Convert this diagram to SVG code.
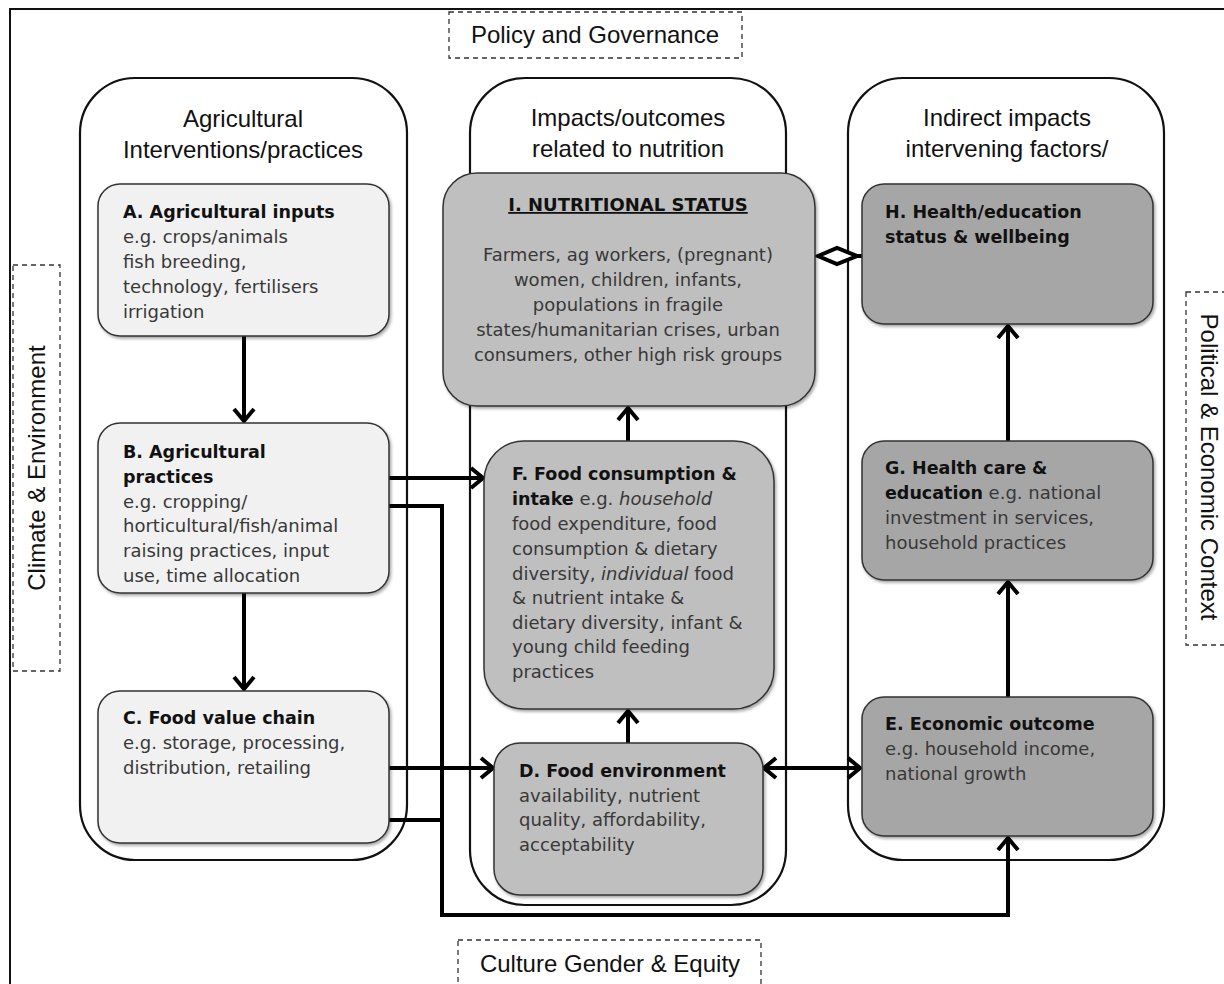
<svg xmlns="http://www.w3.org/2000/svg" width="1224" height="984" viewBox="0 0 1224 984">
<style>
.frame{fill:none;stroke:#111;stroke-width:2}
.dash{fill:#fff;stroke:#333;stroke-width:1.3;stroke-dasharray:5 4}
.ctx{font-family:"Liberation Sans",Arial,sans-serif;font-size:24px;fill:#111}
.cont{fill:#fff;stroke:#111;stroke-width:2.2}
.ttl{font-family:"Liberation Sans",Arial,sans-serif;font-size:24px;fill:#111;text-anchor:middle}
.n1{fill:#f1f1f1;stroke:#333;stroke-width:1.5;filter:url(#sh)}
.n2{fill:#bfbfbf;stroke:#333;stroke-width:1.5;filter:url(#sh)}
.n3{fill:#a6a6a6;stroke:#333;stroke-width:1.5;filter:url(#sh)}
.t{font-family:"DejaVu Sans",Verdana,sans-serif;font-size:18px;fill:#383838}
.b{font-weight:bold;fill:#111;font-size:17.5px}
.i{font-style:italic}
.c{fill:none;stroke:#000;stroke-width:4}
</style>
<defs>
<filter id="sh" x="-10%" y="-10%" width="120%" height="120%">
<feDropShadow dx="1.5" dy="2" stdDeviation="1.5" flood-color="#000" flood-opacity="0.35"/>
</filter>
<marker id="ah" viewBox="0 0 16 24" refX="14" refY="12" markerWidth="16" markerHeight="24" markerUnits="userSpaceOnUse" orient="auto-start-reverse">
<path d="M2,2 L14,12 L2,22" fill="none" stroke="#000" stroke-width="4"/>
</marker>
</defs>
<rect width="1224" height="984" fill="#fff"/>
<rect class="frame" x="10" y="9" width="1240" height="1000"/>

<g id="policy">
<rect class="dash" x="449" y="12" width="293" height="46"/>
<text class="ctx" x="595" y="43" text-anchor="middle">Policy and Governance</text>
</g>
<g id="climate">
<rect class="dash" x="13" y="265" width="47" height="406"/>
<text class="ctx" transform="translate(45,468) rotate(-90)" text-anchor="middle">Climate &amp; Environment</text>
</g>
<g id="political">
<rect class="dash" x="1186" y="292" width="50" height="353"/>
<text class="ctx" transform="translate(1201,467) rotate(90)" text-anchor="middle">Political &amp; Economic Context</text>
</g>
<g id="culture">
<rect class="dash" x="458" y="940" width="303" height="60"/>
<text class="ctx" x="610" y="972" text-anchor="middle">Culture Gender &amp; Equity</text>
</g>

<g id="col-left">
<rect class="cont" x="80" y="78" width="327" height="782" rx="55" ry="55"/>
<text class="ttl" x="243" y="127">Agricultural</text>
<text class="ttl" x="243" y="158">Interventions/practices</text>
</g>
<g id="col-mid">
<rect class="cont" x="470" y="78" width="316" height="827" rx="55" ry="55"/>
<text class="ttl" x="628" y="126">Impacts/outcomes</text>
<text class="ttl" x="628" y="157">related to nutrition</text>
</g>
<g id="col-right">
<rect class="cont" x="848" y="78" width="316" height="782" rx="55" ry="55"/>
<text class="ttl" x="1007" y="126">Indirect impacts</text>
<text class="ttl" x="1007" y="157">intervening factors/</text>
</g>

<g id="connectors">
<line class="c" x1="244" y1="336" x2="244" y2="421" marker-end="url(#ah)"/>
<line class="c" x1="244" y1="593" x2="244" y2="689" marker-end="url(#ah)"/>
<line class="c" x1="389" y1="478" x2="483" y2="478" marker-end="url(#ah)"/>
<polyline class="c" points="389,506 442,506 442,915 1008,915 1008,838" marker-end="url(#ah)"/>
<line class="c" x1="389" y1="768" x2="493" y2="768" marker-end="url(#ah)"/>
<line class="c" x1="389" y1="820" x2="442" y2="820"/>
<line class="c" x1="628" y1="743" x2="628" y2="711" marker-end="url(#ah)"/>
<line class="c" x1="628" y1="441" x2="628" y2="408" marker-end="url(#ah)"/>
<line class="c" x1="764" y1="768" x2="860" y2="768" marker-start="url(#ah)" marker-end="url(#ah)"/>
<line class="c" x1="1008" y1="697" x2="1008" y2="582" marker-end="url(#ah)"/>
<line class="c" x1="1008" y1="441" x2="1008" y2="326" marker-end="url(#ah)"/>
<line class="c" x1="856" y1="256" x2="862" y2="256"/>
<path d="M818,256 L837,248 L857,256 L837,264 Z" fill="#fff" stroke="#000" stroke-width="4" stroke-linejoin="miter"/>
</g>

<g id="node-A">
<rect class="n1" x="98" y="184" width="291" height="152" rx="22" ry="22"/>
<text class="t" x="123"><tspan class="b" y="218">A. Agricultural inputs</tspan><tspan x="123" y="243">e.g. crops/animals</tspan><tspan x="123" y="268">fish breeding,</tspan><tspan x="123" y="293">technology, fertilisers</tspan><tspan x="123" y="318">irrigation</tspan></text>
</g>
<g id="node-B">
<rect class="n1" x="98" y="423" width="291" height="170" rx="22" ry="22"/>
<text class="t" x="123"><tspan class="b" y="458">B. Agricultural</tspan><tspan class="b" x="123" y="483">practices</tspan><tspan x="123" y="508">e.g. cropping/</tspan><tspan x="123" y="532">horticultural/fish/animal</tspan><tspan x="123" y="557">raising practices, input</tspan><tspan x="123" y="582">use, time allocation</tspan></text>
</g>
<g id="node-C">
<rect class="n1" x="98" y="691" width="291" height="152" rx="22" ry="22"/>
<text class="t" x="123"><tspan class="b" y="724">C. Food value chain</tspan><tspan x="123" y="749">e.g. storage, processing,</tspan><tspan x="123" y="774">distribution, retailing</tspan></text>
</g>
<g id="node-I">
<rect class="n2" x="443" y="173" width="372" height="233" rx="34" ry="34"/>
<text class="t b" x="628" y="211" text-anchor="middle" text-decoration="underline" style="font-size:18px">I. NUTRITIONAL STATUS</text>
<text class="t" text-anchor="middle"><tspan x="628" y="261">Farmers, ag workers, (pregnant)</tspan><tspan x="628" y="286">women, children, infants,</tspan><tspan x="628" y="311">populations in fragile</tspan><tspan x="628" y="336">states/humanitarian crises, urban</tspan><tspan x="628" y="361">consumers, other high risk groups</tspan></text>
</g>
<g id="node-F">
<rect class="n2" x="484" y="441" width="290" height="268" rx="40" ry="40"/>
<text class="t" x="512"><tspan class="b" y="480">F. Food consumption &amp;</tspan><tspan x="512" y="505"><tspan class="b">intake</tspan> e.g. <tspan class="i">household</tspan></tspan><tspan x="512" y="530">food expenditure, food</tspan><tspan x="512" y="555">consumption &amp; dietary</tspan><tspan x="512" y="580">diversity, <tspan class="i">individual</tspan> food</tspan><tspan x="512" y="604">&amp; nutrient intake &amp;</tspan><tspan x="512" y="629">dietary diversity, infant &amp;</tspan><tspan x="512" y="653">young child feeding</tspan><tspan x="512" y="678">practices</tspan></text>
</g>
<g id="node-D">
<rect class="n2" x="494" y="743" width="269" height="152" rx="26" ry="26"/>
<text class="t" x="519"><tspan class="b" y="777">D. Food environment</tspan><tspan x="519" y="802">availability, nutrient</tspan><tspan x="519" y="826">quality, affordability,</tspan><tspan x="519" y="851">acceptability</tspan></text>
</g>
<g id="node-H">
<rect class="n3" x="862" y="184" width="291" height="140" rx="22" ry="22"/>
<text class="t b" x="885"><tspan y="218">H. Health/education</tspan><tspan x="885" y="243">status &amp; wellbeing</tspan></text>
</g>
<g id="node-G">
<rect class="n3" x="862" y="441" width="291" height="139" rx="22" ry="22"/>
<text class="t" x="885"><tspan class="b" y="474">G. Health care &amp;</tspan><tspan x="885" y="499"><tspan class="b">education</tspan> e.g. national</tspan><tspan x="885" y="524">investment in services,</tspan><tspan x="885" y="549">household practices</tspan></text>
</g>
<g id="node-E">
<rect class="n3" x="862" y="697" width="291" height="139" rx="22" ry="22"/>
<text class="t" x="885"><tspan class="b" y="730">E. Economic outcome</tspan><tspan x="885" y="755">e.g. household income,</tspan><tspan x="885" y="780">national growth</tspan></text>
</g>
</svg>
